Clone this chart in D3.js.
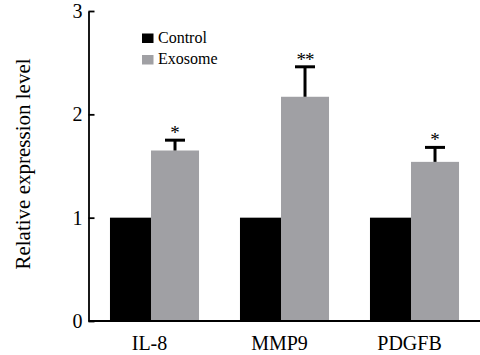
<!DOCTYPE html>
<html>
<head>
<meta charset="utf-8">
<script src="https://cdn.jsdelivr.net/npm/d3@7"></script>
<style>
  body { margin: 0; background: #fff; }
  svg { display: block; font-family: "Liberation Serif", "Times New Roman", serif; }
</style>
</head>
<body>
<svg id="chart" width="480" height="355"></svg>
<script>
// data
const genes = ['IL-8', 'MMP9', 'PDGFB'];
const groups = ['Control', 'Exosome'];
const controlValues = [1, 1, 1];
const exosomeValues = [1.65, 2.17, 1.54];
const exosomeErrors = [0.10, 0.29, 0.14];
const significance = ['*', '**', '*'];
const yTicks = [0, 1, 2, 3];

const colors = { Control: '#000000', Exosome: '#a0a0a4' };

const svg = d3.select('#chart');
const width = 480;
const axisX = 88.5;
const axisY = 321;

// scales
const x = d3.scaleBand()
  .domain(genes)
  .range([axisX + 1, width - 0.5])
  .paddingInner(0.315)
  .paddingOuter(0.1575);

const y = d3.scaleLinear().domain([0, 3]).range([axisY, 11]);

// sub-band split: control bar is a little narrower than exosome bar
const split = 41 / 89;
const sub = {
  Control: g => ({ x0: x(g), w: x.bandwidth() * split }),
  Exosome: g => ({ x0: x(g) + x.bandwidth() * split, w: x.bandwidth() * (1 - split) })
};

const rows = genes.map((g, i) => ({
  gene: g,
  control: controlValues[i],
  exosome: exosomeValues[i],
  err: exosomeErrors[i],
  sig: significance[i]
}));

// bars
const barG = svg.append('g');
rows.forEach(d => {
  const c = sub.Control(d.gene);
  barG.append('rect')
    .attr('x', c.x0).attr('width', c.w)
    .attr('y', y(d.control)).attr('height', y(0) - y(d.control))
    .attr('fill', colors.Control);
  const e = sub.Exosome(d.gene);
  barG.append('rect')
    .attr('x', e.x0).attr('width', e.w)
    .attr('y', y(d.exosome)).attr('height', y(0) - y(d.exosome))
    .attr('fill', colors.Exosome);
});

// error bars (upper only) + significance stars
const errG = svg.append('g').attr('stroke', '#000').attr('stroke-width', 3);
rows.forEach(d => {
  const e = sub.Exosome(d.gene);
  const cx = e.x0 + e.w / 2;
  const top = y(d.exosome + d.err);
  errG.append('line')
    .attr('x1', cx).attr('x2', cx)
    .attr('y1', y(d.exosome)).attr('y2', top);
  errG.append('line')
    .attr('x1', cx - 10).attr('x2', cx + 10)
    .attr('y1', top).attr('y2', top);
  svg.append('text')
    .attr('x', cx)
    .attr('y', top - 1)
    .attr('text-anchor', 'middle')
    .attr('font-size', 19)
    .attr('letter-spacing', d.sig.length > 1 ? '-1px' : null)
    .text(d.sig);
});

// y axis, ticks pointing inward
const yAxis = svg.append('g')
  .attr('transform', `translate(${axisX},0)`)
  .call(d3.axisLeft(y).tickValues(yTicks).tickFormat(d3.format('d'))
    .tickSizeInner(-6).tickSizeOuter(0).tickPadding(6));
yAxis.select('.domain').attr('stroke-width', 1.8);
yAxis.selectAll('.tick line').attr('stroke-width', 1.8);
yAxis.selectAll('.tick text')
  .attr('font-size', 20)
  .attr('font-family', '"Liberation Serif", serif')
  .attr('fill', '#000');

// x axis, no ticks
const xAxis = svg.append('g')
  .attr('transform', `translate(0,${axisY})`)
  .call(d3.axisBottom(x).tickSize(0).tickPadding(15));
xAxis.select('.domain')
  .attr('stroke-width', 1.8)
  .attr('d', `M${axisX},0H${width}`);
xAxis.selectAll('.tick text')
  .attr('font-size', 20)
  .attr('font-family', '"Liberation Serif", serif')
  .attr('dx', -5)
  .attr('fill', '#000');

// y title
svg.append('text')
  .attr('transform', `translate(30,164) rotate(-90)`)
  .attr('text-anchor', 'middle')
  .attr('font-size', 21)
  .text('Relative expression level');

// legend
const legend = svg.append('g').attr('transform', 'translate(142,33)');
groups.forEach((g, i) => {
  const row = legend.append('g').attr('transform', `translate(0,${i * 21.5})`);
  row.append('rect')
    .attr('x', 0).attr('y', 0.5)
    .attr('width', 11.5).attr('height', 9.5)
    .attr('fill', colors[g]);
  row.append('text')
    .attr('x', 16).attr('y', 9.5)
    .attr('font-size', 16)
    .text(g);
});
</script>
</body>
</html>
